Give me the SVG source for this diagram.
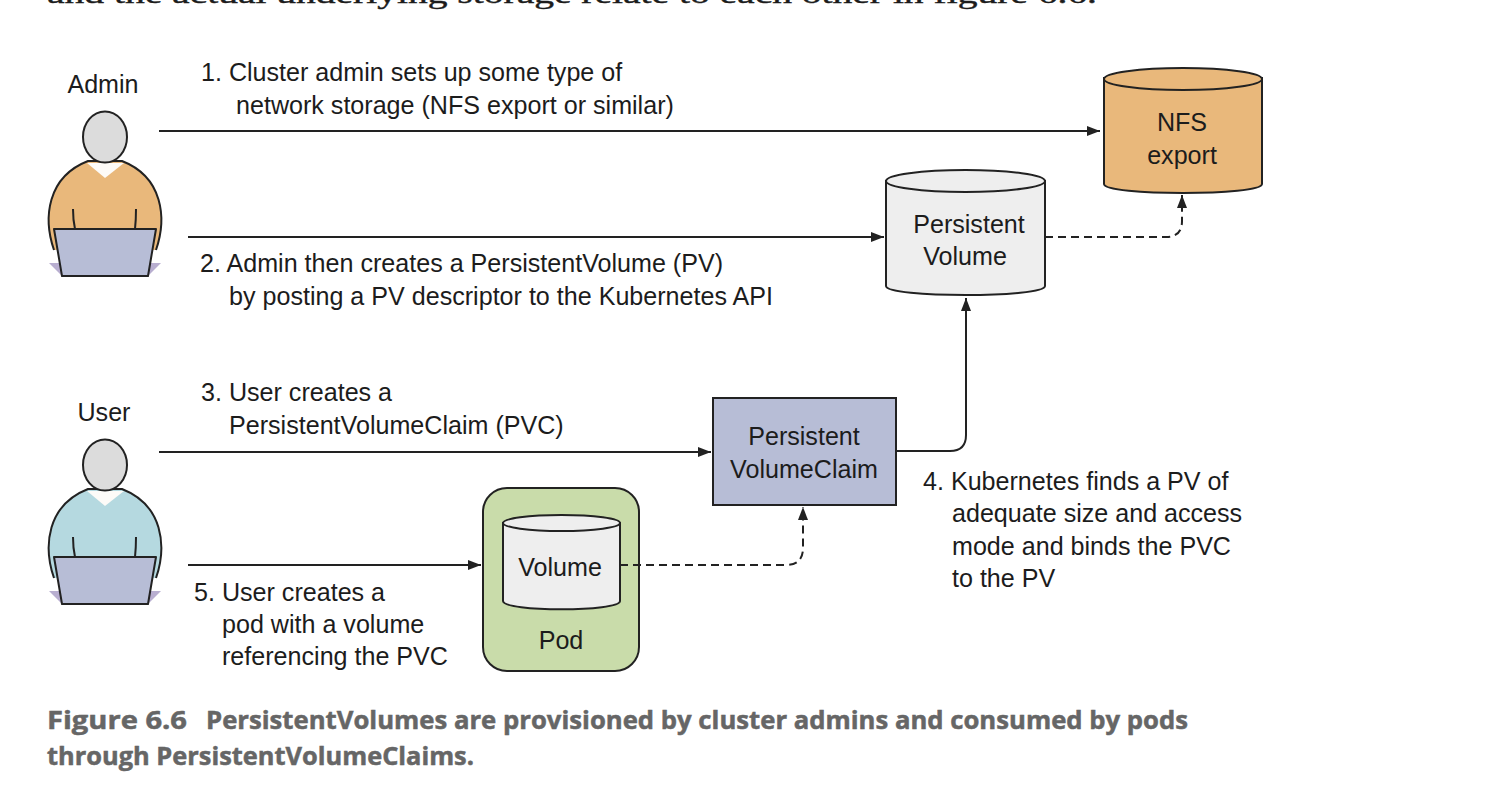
<svg xmlns="http://www.w3.org/2000/svg" width="1506" height="808" viewBox="0 0 1506 808">
<style>
text{font-family:"Liberation Sans",Arial,sans-serif;font-size:25.100px;fill:#1c1c1c}
.c{text-anchor:middle}
.o{stroke:#222;stroke-width:2}
.cap{font-family:"Open Sans","Liberation Sans",sans-serif;font-weight:700;font-size:25px;fill:#666;stroke:#666;stroke-width:.5}
.l{fill:none;stroke:#222;stroke-width:2}
.d{stroke-dasharray:8 5}
</style>
<defs>
<marker id="a" markerUnits="userSpaceOnUse" markerWidth="14" markerHeight="12" refX="13" refY="5" orient="auto"><path d="M0 0L13 5L0 10Z" fill="#222"/></marker>
<g id="person">
<path d="M49 263H161L148 276H62Z" fill="#b8aed0"/>
<path class="o" d="M54 250C43 218 47 177 88 161H122C163 177 167 218 156 250" fill="var(--b)"/>
<path d="M87 163H124L105 178Z" fill="#fdfbf8"/>
<ellipse class="o" cx="105" cy="137" rx="22" ry="25.500" fill="#dcdcdc"/>
<path class="l" d="M73 209Q73 220 75 229M136 209Q136 220 135 229"/>
<path class="o" d="M54 229H156L148 276H62Z" fill="#b7bdd6" stroke-linejoin="round"/>
</g>
</defs>
<rect width="1506" height="808" fill="#fff"/>
<text id="top" x="47" y="3" style="font-family:'Liberation Serif',serif;font-size:27px;stroke:#1c1c1c;stroke-width:.4" textLength="1050" lengthAdjust="spacingAndGlyphs">and the actual underlying storage relate to each other in figure 6.6.</text>
<g id="admin"><text class="c" x="103" y="93">Admin</text><use href="#person" style="--b:#e9b87b"/></g>
<g id="user"><text class="c" x="104" y="421">User</text><use href="#person" y="328" style="--b:#b5d9e0"/></g>
<g id="nfs">
<path class="o" d="M1104 78V184C1104 196 1262 196 1262 184V78Z" fill="#e9b87b"/>
<ellipse class="o" cx="1183" cy="79" rx="79" ry="11" fill="#e9b87b"/>
<text class="c" x="1182" y="131">NFS</text><text class="c" x="1182" y="164">export</text>
</g>
<g id="pv">
<path class="o" d="M886 181V286C886 298 1045 298 1045 286V181Z" fill="#eee"/>
<ellipse class="o" cx="965.500" cy="181" rx="79.500" ry="11" fill="#eee"/>
<text class="c" x="969" y="233">Persistent</text><text class="c" x="965" y="265">Volume</text>
</g>
<g id="pvc">
<rect class="o" x="713" y="398" width="183" height="107" fill="#b7bdd6"/>
<text class="c" x="804" y="445">Persistent</text><text class="c" x="804" y="478">VolumeClaim</text>
</g>
<g id="pod">
<rect class="o" x="483" y="488" width="156" height="183" rx="24" fill="#c9dcaa"/>
<path class="o" d="M503 523V601C503 612 620 612 620 601V523Z" fill="#eee"/>
<ellipse class="o" cx="561.500" cy="523" rx="58.500" ry="8" fill="#eee"/>
<text class="c" x="560" y="576">Volume</text><text class="c" x="561" y="649">Pod</text>
</g>
<g id="connectors">
<path class="l" marker-end="url(#a)" d="M159 131H1100"/>
<path class="l" marker-end="url(#a)" d="M188 237H884"/>
<path class="l" marker-end="url(#a)" d="M159 452H711"/>
<path class="l" marker-end="url(#a)" d="M188 565H481"/>
<path class="l" marker-end="url(#a)" d="M896 451H950Q966 451 966 435V298"/>
<path class="l d" marker-end="url(#a)" d="M1045 237H1166Q1182 237 1182 221V195"/>
<path class="l d" marker-end="url(#a)" d="M620 565H786Q803 565 803 548V507"/>
</g>
<g id="labels">
<text x="201" y="81">1. Cluster admin sets up some type of</text>
<text x="236" y="114">network storage (NFS export or similar)</text>
<text x="200" y="272">2. Admin then creates a PersistentVolume (PV)</text>
<text x="229" y="305">by posting a PV descriptor to the Kubernetes API</text>
<text x="201" y="401">3. User creates a</text>
<text x="229" y="434">PersistentVolumeClaim (PVC)</text>
<text x="923" y="490">4. Kubernetes finds a PV of</text>
<text x="952" y="522">adequate size and access</text>
<text x="952" y="555">mode and binds the PVC</text>
<text x="952" y="587">to the PV</text>
<text x="194" y="601">5. User creates a</text>
<text x="222" y="633">pod with a volume</text>
<text x="222" y="665">referencing the PVC</text>
</g>
<g id="caption">
<text class="cap" x="47" y="729" textLength="140" lengthAdjust="spacingAndGlyphs">Figure 6.6</text>
<text class="cap" x="206" y="729" textLength="982" lengthAdjust="spacingAndGlyphs">PersistentVolumes are provisioned by cluster admins and consumed by pods</text>
<text class="cap" x="47" y="765" textLength="427" lengthAdjust="spacingAndGlyphs">through PersistentVolumeClaims.</text>
</g>
</svg>
